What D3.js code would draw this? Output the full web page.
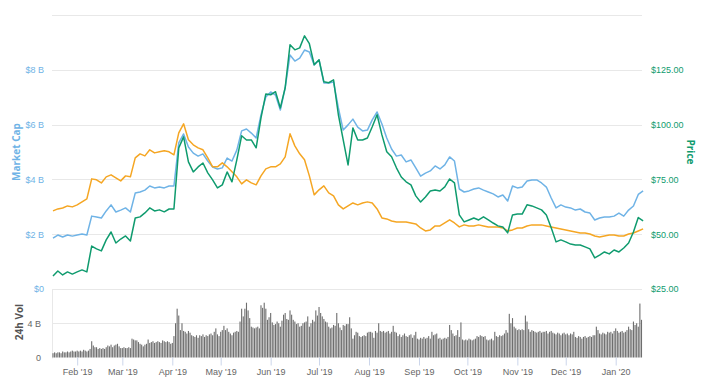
<!DOCTYPE html>
<html>
<head>
<meta charset="utf-8">
<script src="https://cdn.jsdelivr.net/npm/d3@7"></script>
<style>
  body { margin: 0; background: #fff; }
  svg { display: block; font-family: "Open Sans", sans-serif; }
  .grid line { stroke: #e8e8e8; stroke-width: 1; }
</style>
</head>
<body>
<svg id="chart" width="725" height="386"></svg>
<script>
const width = 725, height = 386
const startDate = new Date(2019, 0, 17)
const endDate = new Date(2020, 0, 17)
const lineStep = 3 // days between line samples
const volStep = 1

// market cap, billions USD (every 3 days from Jan 17 2019)
const marketCap = [
  1.86,1.97,1.90,1.97,1.93,1.97,2.01,1.97,2.66,2.63,2.59,2.85,3.07,2.81,2.88,2.96,2.81,3.50,3.54,3.61,
  3.76,3.69,3.72,3.69,3.76,3.76,5.33,5.66,5.18,4.96,4.85,4.93,4.67,4.45,4.38,4.42,4.78,4.67,5.07,5.77,
  5.84,5.69,5.51,6.35,7.01,7.19,7.08,6.53,7.34,8.54,8.32,8.43,8.72,8.65,8.18,8.36,7.52,7.52,7.55,6.61,
  5.80,5.99,6.20,5.91,5.77,5.80,6.17,6.46,6.02,5.51,5.11,4.85,4.89,4.64,4.71,4.42,4.12,4.23,4.31,4.49,
  4.38,4.53,4.82,4.67,3.65,3.54,3.58,3.65,3.69,3.61,3.54,3.47,3.36,3.43,3.21,3.76,3.69,3.72,3.94,3.98,
  3.98,3.87,3.72,3.32,2.96,3.07,2.99,2.96,2.88,2.92,2.81,2.77,2.52,2.59,2.63,2.63,2.66,2.77,2.66,2.88,
  3.03,3.45,3.58
]

// price, USD
const price = [
  30.9,33.2,31.4,32.8,31.8,32.8,33.7,32.8,44.6,43.3,42.4,47.4,51.0,46.0,47.8,49.2,46.9,57.4,57.9,59.7,
  62.0,60.6,61.1,60.2,61.5,61.5,89.4,94.4,83.0,78.4,80.7,82.5,78.0,74.8,71.1,72.5,78.4,73.9,83.9,94.9,
  93.0,93.0,89.4,103.1,114.0,113.6,115.0,107.6,116.8,136.4,134.1,135.0,140.5,136.9,127.3,129.6,119.5,119.1,120.4,104.5,
  93.0,81.6,98.5,93.0,93.0,93.9,99.0,104.5,95.3,87.6,85.3,80.3,76.1,73.9,72.5,67.5,64.7,67.0,69.7,70.2,
  69.7,71.6,75.2,73.4,58.8,55.6,56.5,57.4,56.5,57.9,56.5,55.1,53.8,53.3,50.6,58.8,59.2,59.2,63.4,62.9,
  62.0,61.1,58.8,52.9,46.5,47.4,46.5,45.5,45.1,45.1,44.2,43.3,39.2,40.5,41.9,41.0,42.8,41.9,43.7,46.0,
  51.0,57.6,56.1
]

// price, BTC
const priceBtc = [
  0.00889,0.00912,0.00923,0.00946,0.00935,0.00958,0.00992,0.01026,0.01254,0.01243,0.01208,0.01277,0.01300,0.01265,0.01231,0.01288,0.01277,0.01493,0.01539,0.01516,
  0.01585,0.01550,0.01562,0.01573,0.01562,0.01528,0.01778,0.01881,0.01699,0.01642,0.01607,0.01585,0.01493,0.01391,0.01391,0.01436,0.01391,0.01334,0.01277,0.01197,
  0.01243,0.01208,0.01186,0.01288,0.01368,0.01391,0.01391,0.01425,0.01505,0.01767,0.01630,0.01539,0.01471,0.01288,0.01072,0.01129,0.01174,0.01094,0.01060,0.00958,
  0.00912,0.00946,0.00980,0.00958,0.00980,0.00992,0.00980,0.00912,0.00809,0.00798,0.00775,0.00764,0.00764,0.00764,0.00752,0.00741,0.00695,0.00661,0.00673,0.00718,
  0.00718,0.00752,0.00787,0.00752,0.00707,0.00730,0.00718,0.00718,0.00730,0.00718,0.00707,0.00707,0.00707,0.00695,0.00661,0.00673,0.00695,0.00695,0.00718,0.00730,
  0.00730,0.00730,0.00718,0.00707,0.00695,0.00684,0.00673,0.00661,0.00650,0.00638,0.00638,0.00627,0.00604,0.00593,0.00604,0.00616,0.00616,0.00604,0.00604,0.00627,
  0.00638,0.00661,0.00684
]

// 24h volume, billions USD (daily from Jan 17 2019)
const volume = [
  0.5,0.6,0.5,0.6,0.6,0.5,0.7,0.6,0.6,0.7, 0.6,0.7,0.8,0.7,0.7,0.8,0.7,0.8,0.7,0.9,
  0.8,0.7,0.8,1.0,1.9,1.4,1.2,1.2,1.0,1.1, 1.0,1.1,1.0,1.2,1.4,1.3,1.5,1.2,1.4,1.5,
  1.6,1.3,1.1,1.1,1.2,1.1,1.1,1.2,1.1,2.2, 2.1,2.0,2.0,1.8,1.6,1.5,1.3,1.5,1.6,2.1,
  1.7,1.8,1.9,1.7,1.8,1.9,1.8,1.7,2.0,1.9, 1.8,1.9,1.8,1.6,1.7,2.5,4.0,5.7,4.9,3.2,
  4.0,3.1,3.0,2.8,3.1,2.9,2.6,2.5,2.4,2.6, 2.3,2.6,2.5,2.7,2.4,2.6,2.5,2.7,2.8,2.6,
  3.0,3.4,2.7,2.5,3.0,3.2,3.7,3.2,3.4,3.0, 2.8,2.6,2.9,3.0,3.1,3.0,4.2,5.7,4.8,5.7,
  6.4,5.5,4.6,3.6,3.5,3.4,3.5,3.6,3.4,6.1, 5.8,6.4,5.7,4.4,4.7,5.2,4.1,3.8,3.9,4.2,
  4.0,3.6,4.3,5.0,5.2,4.5,4.4,5.5,5.0,4.4, 4.2,3.9,4.0,3.6,3.7,4.0,4.1,4.2,4.8,3.6,
  4.0,4.4,4.2,5.5,4.9,5.9,5.2,4.8,4.5,4.2, 4.1,3.6,3.4,3.5,3.8,3.7,5.2,4.0,3.5,3.2,
  3.8,3.7,3.9,3.9,4.7,3.4,2.2,2.6,3.0,2.9, 2.5,2.4,2.5,2.6,2.5,2.9,3.0,3.0,2.9,2.3,
  3.1,2.9,4.0,3.1,3.0,3.1,2.9,3.0,3.1,2.8, 3.0,3.7,3.0,2.9,2.5,2.7,2.4,2.6,2.8,2.5,
  2.4,2.6,2.7,2.3,2.6,3.0,2.2,2.1,2.3,2.2, 2.4,2.2,2.3,2.5,2.2,3.0,2.6,2.7,2.8,2.2,
  2.3,2.1,2.2,2.3,2.2,2.4,3.8,3.2,2.8,2.5, 2.6,3.2,2.4,4.1,2.1,2.0,2.1,2.0,2.2,2.1,
  2.0,2.1,2.2,2.5,2.4,2.6,2.5,2.4,2.5,2.1, 2.0,2.1,2.2,2.0,3.0,2.5,2.4,2.6,2.5,2.6,
  2.8,3.2,2.9,5.1,4.0,4.6,3.6,3.4,3.2,3.3, 3.2,3.3,3.2,4.9,4.2,3.3,3.0,3.2,3.1,3.0,
  2.9,3.0,3.1,2.9,3.0,3.0,3.1,2.8,3.0,3.1, 2.9,2.8,2.7,2.9,2.8,2.6,2.8,2.9,2.7,2.8,
  2.6,2.8,2.7,3.0,2.4,2.3,2.5,2.4,2.2,2.4, 2.5,2.3,2.4,2.5,2.4,2.6,2.6,3.6,3.2,2.8,
  2.7,2.9,2.8,2.7,3.0,2.9,3.0,2.8,3.1,3.4, 3.1,2.9,3.0,3.1,2.9,3.0,3.2,3.6,3.3,3.2,
  4.2,3.8,4.0,3.6,6.3,4.4
]

const capTicks = [0, 2, 4, 6, 8]
const priceTicks = [25, 50, 75, 100, 125]
const gridTicks = [0, 2, 4, 6, 8, 10]
const volTicks = [0, 4]

const blue = "#6fb3e6", green = "#0f9b6e", orange = "#f5a623"
const mainTop = 15, mainBottom = 289, volBottom = 357.5
const left = 52, right = 642

const day = (i, step) => d3.timeDay.offset(startDate, i * step)

const svg = d3.select("#chart")

const x = d3.scaleTime().domain([startDate, endDate]).range([53, 641.5])
const yCap = d3.scaleLinear().domain([0, 10]).range([mainBottom, mainTop])
const yPrice = d3.scaleLinear().domain([25, 150]).range([mainBottom, mainTop])
const yBtc = d3.scaleLinear().domain([0, 0.0312]).range([mainBottom, mainTop])
const yVol = d3.scaleLinear().domain([0, 8]).range([volBottom, mainBottom])

// grid lines
svg.append("g").attr("class", "grid")
  .selectAll("line").data(gridTicks).enter().append("line")
  .attr("x1", left).attr("x2", right)
  .attr("y1", d => Math.round(yCap(d)) + 0.5).attr("y2", d => Math.round(yCap(d)) + 0.5)

svg.append("g").attr("class", "grid")
  .selectAll("line").data(volTicks.slice(1)).enter().append("line")
  .attr("x1", left).attr("x2", right)
  .attr("y1", d => Math.round(yVol(d)) + 0.5).attr("y2", d => Math.round(yVol(d)) + 0.5)

svg.append("line").attr("x1", left + 0.5).attr("x2", left + 0.5)
  .attr("y1", mainBottom).attr("y2", volBottom + 1)
  .attr("stroke", "#e8e8e8")

// left axis (market cap)
const capAxis = svg.append("g").attr("transform", "translate(44,0)")
  .call(d3.axisLeft(yCap).tickValues(capTicks).tickSize(0).tickPadding(0)
    .tickFormat(d => "$" + d + (d ? " B" : "")))
capAxis.select(".domain").remove()
capAxis.selectAll("text").attr("fill", blue).style("font-size", "9px")

// right axis (price)
const priceAxis = svg.append("g").attr("transform", "translate(651,0)")
  .call(d3.axisRight(yPrice).tickValues(priceTicks).tickSize(0).tickPadding(0)
    .tickFormat(d => "$" + d3.format(".2f")(d)))
priceAxis.select(".domain").remove()
priceAxis.selectAll("text").attr("fill", green).style("font-size", "9px")

// volume axis
const volAxis = svg.append("g").attr("transform", "translate(41,0)")
  .call(d3.axisLeft(yVol).tickValues(volTicks).tickSize(0).tickPadding(0)
    .tickFormat(d => d ? d + " B" : "0"))
volAxis.select(".domain").remove()
volAxis.selectAll("text").attr("fill", "#666").style("font-size", "9px")

// axis titles
svg.append("text").attr("transform", "translate(20,152) rotate(-90)")
  .attr("text-anchor", "middle").attr("fill", blue)
  .style("font-size", "10px").style("font-weight", "700").text("Market Cap")
svg.append("text").attr("transform", "translate(687,152) rotate(90)")
  .attr("text-anchor", "middle").attr("fill", green)
  .style("font-size", "10px").style("font-weight", "700").text("Price")
svg.append("text").attr("transform", "translate(23,322) rotate(-90)")
  .attr("text-anchor", "middle").attr("fill", "#555")
  .style("font-size", "10px").style("font-weight", "700").text("24h Vol")

// volume bars
svg.append("g").selectAll("rect").data(volume).enter().append("rect")
  .attr("x", (d, i) => x(day(i, volStep)) - 0.55)
  .attr("width", 1.1)
  .attr("y", d => yVol(d))
  .attr("height", d => volBottom - yVol(d))
  .attr("fill", "#6e6e6e")

// x axis
const xAxis = svg.append("g").attr("transform", `translate(0,${volBottom})`)
  .call(d3.axisBottom(x).ticks(d3.timeMonth.every(1)).tickSize(8).tickPadding(3)
    .tickFormat(d3.timeFormat("%b '%y")))
xAxis.select(".domain").remove()
xAxis.selectAll("line").attr("stroke", "#ccd6eb")
xAxis.selectAll("text").attr("fill", "#666").style("font-size", "9px")

// lines
const series = [
  { values: marketCap, y: yCap, color: blue },
  { values: priceBtc, y: yBtc, color: orange },
  { values: price, y: yPrice, color: green }
]
series.forEach(s => {
  const line = d3.line()
    .x((d, i) => x(day(i, lineStep)))
    .y(d => s.y(d))
  svg.append("path").datum(s.values)
    .attr("fill", "none").attr("stroke", s.color)
    .attr("stroke-width", 1.5).attr("stroke-linejoin", "round")
    .attr("d", line)
})
</script>
</body>
</html>
